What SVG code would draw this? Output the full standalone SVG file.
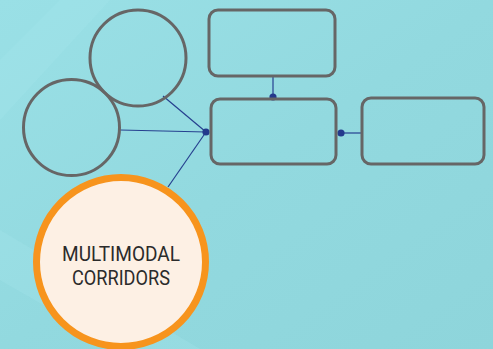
<svg xmlns="http://www.w3.org/2000/svg" width="493" height="349" viewBox="0 0 493 349">
<style>
.ring{fill:none;stroke:#666666;stroke-width:3}
.box{fill:none;stroke:#666666;stroke-width:3}
.wire{stroke:#26408f;stroke-width:1.2;fill:none}
.dot{fill:#233a8c}
.lbl{font-family:"Roboto","Liberation Sans",sans-serif;font-size:20px;fill:#2b2b2b;text-anchor:middle}
</style>
<defs>
<linearGradient id="bg" x1="0" y1="0" x2="1" y2="1">
<stop offset="0" stop-color="#9ae0e6"/>
<stop offset="0.5" stop-color="#92d9df"/>
<stop offset="1" stop-color="#8ed5db"/>
</linearGradient>
</defs>
<rect x="0" y="0" width="493" height="349" fill="url(#bg)"/>
<polygon points="0,60 60,0 110,0 0,120" fill="#a2e4ea" opacity="0.35"/>
<polygon points="0,230 200,349 120,349 0,280" fill="#a5e4ea" opacity="0.3"/>
<g id="connectors">
<line class="wire" x1="273" y1="77" x2="273" y2="97"/>
<line class="wire" x1="120" y1="130" x2="206" y2="132"/>
<line class="wire" x1="163" y1="96" x2="206" y2="132"/>
<line class="wire" x1="168" y1="187" x2="206" y2="132"/>
<line class="wire" x1="341" y1="133" x2="362" y2="133"/>
<circle class="dot" cx="273" cy="97" r="3.6"/>
<circle class="dot" cx="206" cy="132" r="3.6"/>
<circle class="dot" cx="341" cy="133" r="3.6"/>
</g>
<g id="circle-top"><circle class="ring" cx="138" cy="58" r="48"/></g>
<g id="circle-left"><circle class="ring" cx="71.5" cy="127.5" r="48"/></g>
<g id="box-top"><rect class="box" x="209" y="10" width="126" height="66" rx="9"/></g>
<g id="box-middle"><rect class="box" x="211" y="99" width="125" height="65" rx="9"/></g>
<g id="box-right"><rect class="box" x="362" y="98" width="122" height="66" rx="9"/></g>
<g id="multimodal-corridors">
<circle cx="121" cy="262" r="84.5" fill="#fdf0e4" stroke="#f7941d" stroke-width="7"/>
<text class="lbl" x="121" y="261" textLength="118" lengthAdjust="spacingAndGlyphs">MULTIMODAL</text>
<text class="lbl" x="121" y="285" textLength="98" lengthAdjust="spacingAndGlyphs">CORRIDORS</text>
</g>
</svg>
